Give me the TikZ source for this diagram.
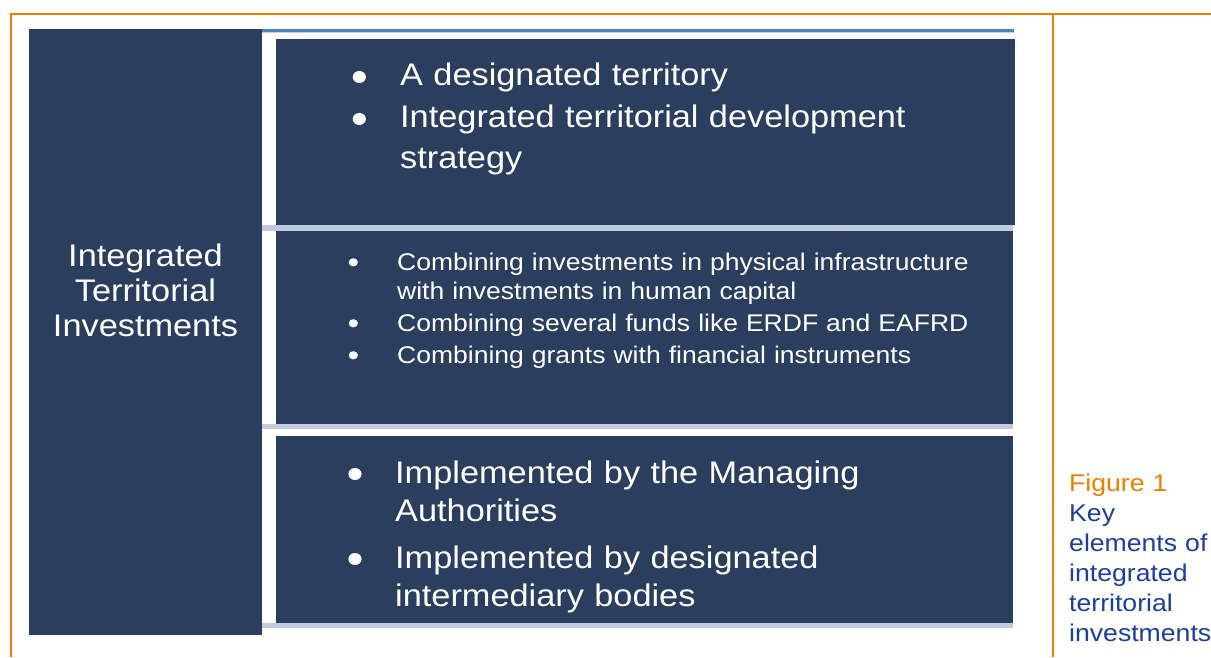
\documentclass[tikz,border=0pt]{standalone}
\usepackage{fontspec}
\setmainfont{Liberation Sans}[FakeStretch=1.1]
\definecolor{boxblue}{HTML}{2B3E5E}
\definecolor{stripblue}{HTML}{4F81BD}
\definecolor{striplight}{HTML}{C0CBE2}
\definecolor{frameorange}{HTML}{EE7F00}
\definecolor{capblue}{HTML}{1C3F9B}
\begin{document}
\begin{tikzpicture}[x=1pt,y=-1pt,
  frameline/.style={draw=frameorange,line width=2.6pt},
  bigtext/.style={text=white,inner sep=0pt,anchor=base west,align=left,text width=620pt,font=\fontsize{31.2}{41.5}\selectfont},
  midtext/.style={text=white,inner sep=0pt,anchor=base west,align=left,text width=620pt,font=\fontsize{24.1}{29}\selectfont},
  lowtext/.style={text=white,inner sep=0pt,anchor=base west,align=left,text width=620pt,font=\fontsize{31.2}{38.7}\selectfont},
  bigdot/.style={fill=white},
]
\useasboundingbox (0,0) rectangle (1211,657);
\fill[white] (0,0) rectangle (1211,657);
% frame
\draw[frameline] (11,657) -- (11,14) -- (1211,14);
\draw[frameline] (1053,14) -- (1053,657);
% left box
\fill[boxblue] (29,29) rectangle (262,635);
% strips
\fill[stripblue] (262,29) rectangle (1014,32);
\fill[striplight] (262,32) rectangle (1014,33.2);
\fill[striplight] (262,225) rectangle (1013,231);
\fill[striplight] (262,424) rectangle (1013,429);
\fill[striplight] (262,623) rectangle (1013,628);
% right boxes
\fill[boxblue] (276,39) rectangle (1015,225);
\fill[boxblue] (276,231) rectangle (1013,424);
\fill[boxblue] (276,436) rectangle (1013,623);
% left text
\node[text=white,inner sep=0pt,anchor=base,align=center,text width=230pt,
  font=\fontsize{31.2}{35}\selectfont] (lefttitle) at (145.5,266)
  {Integrated\\Territorial\\Investments};
% box 1
\fill[bigdot] (359.3,77) ellipse [x radius=6.6pt,y radius=6pt];
\fill[bigdot] (359.3,119) ellipse [x radius=6.6pt,y radius=6pt];
\node[bigtext] (t1a) at (400,85) {A designated territory};
\node[bigtext] (t1b) at (400,127) {Integrated territorial development\\strategy};
% box 2
\fill[bigdot] (353.3,262.3) ellipse [x radius=4.6pt,y radius=4.1pt];
\fill[bigdot] (353.3,323.3) ellipse [x radius=4.6pt,y radius=4.1pt];
\fill[bigdot] (353.3,355.3) ellipse [x radius=4.6pt,y radius=4.1pt];
\node[midtext] (t2a) at (397,270) {Combining investments in physical infrastructure\\with investments in human capital};
\node[midtext] (t2b) at (397,331) {Combining several funds like ERDF and EAFRD};
\node[midtext] (t2c) at (397,363) {Combining grants with financial instruments};
% box 3
\fill[bigdot] (355,474) ellipse [x radius=6.6pt,y radius=6pt];
\fill[bigdot] (355,559) ellipse [x radius=6.6pt,y radius=6pt];
\node[lowtext] (t3a) at (395,483) {Implemented by the Managing\\Authorities};
\node[lowtext] (t3b) at (395,568) {Implemented by designated\\intermediary bodies};
% caption
\node[inner sep=0pt,anchor=base west,align=left,text width=140pt,
  font=\fontsize{24.2}{30}\selectfont,text=capblue] (caption) at (1069,491.7)
  {\textcolor{frameorange}{Figure 1}\\Key\\elements of\\integrated\\territorial\\investments};
\end{tikzpicture}
\end{document}
